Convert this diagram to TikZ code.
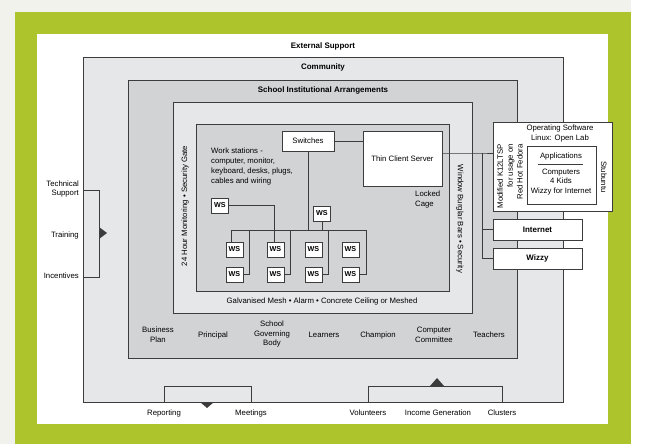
\documentclass[tikz,border=0pt]{standalone}
\usepackage{fontspec}
\setmainfont{Liberation Sans}
\usepackage{xcolor}
\usepackage{tikz}
\definecolor{verde}{HTML}{AEC42C}
\definecolor{grisclaro}{HTML}{E6E7E8}
\definecolor{grisoscuro}{HTML}{D1D3D4}
\definecolor{fondo}{HTML}{F1F2EB}
\definecolor{borde}{HTML}{3C3C3C}

\begin{document}
\begin{tikzpicture}[x = 1bp, y = -1bp,
	caja/.style = {draw = borde, line width = 0.9bp},
	blanca/.style = {caja, fill = white, inner sep = 0pt},
	txt/.style = {font = \fontsize{7.8}{9.9}\selectfont, inner sep = 0pt, align = center},
	negrita/.style = {font = \fontsize{8}{9.9}\selectfont\bfseries, inner sep = 0pt},
	ws/.style = {blanca, minimum width = 17bp, minimum height = 15bp, font = \fontsize{7.2}{7.5}\selectfont\bfseries},
	linea/.style = {draw = borde, line width = 0.8bp}]
						\useasboundingbox (0,0) rectangle (652,444);
						\fill[fondo] (0,0) rectangle (652,444);
						\fill[white] (631,0) rectangle (652,444);
						\fill[verde] (15,12) rectangle (631,444);
						\fill[white] (37,34) rectangle (608,424);
						\filldraw[fill = grisclaro, caja] (83,57) rectangle (563,402);
						\filldraw[fill = grisoscuro, caja] (128,80) rectangle (517,358);
						\filldraw[fill = grisclaro, caja] (173,102) rectangle (472,313);
						\filldraw[fill = grisoscuro, caja] (196,124) rectangle (449,291);
						\node[negrita] (apoyo) at (323,46) {External Support};
						\node[negrita] (comunidad) at (323,67) {Community};
						\node[negrita] (escuela) at (323,90) {School Institutional Arrangements};
						\node[txt] (malla) at (322,301) {Galvanised Mesh • Alarm • Concrete Ceiling or Meshed};
						\node[txt, rotate = 90] (monitoreo) at (185,206) {24 Hour Monitoring • Security Gate};
						\node[txt, rotate = -90] (rejas) at (460,219) {Window Burglar Bars • Security};
						% actores de la escuela
						\node[txt] (plan) at (158,335) {Business\\Plan};
						\node[txt] (director) at (213,335) {Principal};
						\node[txt] (consejo) at (272,334) {School\\Governing\\Body};
						\node[txt] (alumnos) at (324,335) {Learners};
						\node[txt] (campeon) at (378,335) {Champion};
						\node[txt] (comite) at (434,335) {Computer\\Committee};
						\node[txt] (docentes) at (489,335) {Teachers};
						% apoyo externo
						\node[txt, anchor = east, align = right] (tecnico) at (79,189) {Technical\\Support};
						\node[txt, anchor = east] (formacion) at (79,235) {Training};
						\node[txt, anchor = east] (incentivos) at (79,276) {Incentives};
						\draw[linea] (83,190) -| (99,277) -- (83,277);
						\fill[borde] (99,227) -- (107,233) -- (99,239) -- cycle;
						\node[txt] (informes) at (164,413) {Reporting};
						\node[txt] (reuniones) at (251,413) {Meetings};
						\node[txt] (voluntarios) at (368,413) {Volunteers};
						\node[txt] (ingresos) at (438,413) {Income Generation};
						\node[txt] (redes) at (502,413) {Clusters};
						\draw[linea] (informes.north |- 0,402) |- (reuniones.north |- 0,386) -- (reuniones.north |- 0,402);
						\fill[borde] (200,402) -- (214,402) -- (207,408) -- cycle;
						\draw[linea] (voluntarios.north |- 0,402) |- (redes.north |- 0,386) -- (redes.north |- 0,402);
						\fill[borde] (430,386) -- (444,386) -- (437,378) -- cycle;
						% jaula
						\node[blanca, txt, minimum width = 52bp, minimum height = 20bp] (switch) at (308,141) {Switches};
						\node[blanca, txt, minimum width = 79bp, minimum height = 55bp] (servidor) at (402.5,158.5) {Thin Client Server};
						\node[txt, anchor = north west, align = left] (estaciones) at (211,148) {Work stations -\\computer, monitor,\\keyboard, desks, plugs,\\cables and wiring};
						\node[txt, anchor = north west, align = left] (jaula) at (415,191) {Locked\\Cage};
						\node[ws] (wsa) at (220,205.5) {WS};
						\node[ws] (wsb) at (322,213.5) {WS};
						\node[ws] (ws11) at (234.5,249.5) {WS};
						\node[ws] (ws12) at (275.5,249.5) {WS};
						\node[ws] (ws13) at (313.5,249.5) {WS};
						\node[ws] (ws14) at (350.5,249.5) {WS};
						\node[ws] (ws21) at (234.5,274.5) {WS};
						\node[ws] (ws22) at (275.5,274.5) {WS};
						\node[ws] (ws23) at (313.5,274.5) {WS};
						\node[ws] (ws24) at (350.5,274.5) {WS};
						\coordinate (busi) at (231,230);
						\coordinate (busd) at (366,230);
						\draw[linea] (busi) -- (busd);
						\draw[linea] (switch.east) -- (servidor.west |- switch.east);
						\draw[linea] (switch.south) -- (switch.south |- busi);
						\draw[linea] (wsb.south) -- (wsb.south |- busi);
						\draw[linea] (busi) -- (busi |- ws11.north);
						\draw[linea] (249,230) |- (ws21.east);
						\draw[linea] (wsa.east) -| (274,242);
						\draw[linea] (290,230) |- (ws22.east);
						\draw[linea] (328,230) |- (ws23.east);
						\draw[linea] (busd) |- (ws24.east);
						% software y conexiones
						\node[blanca, minimum width = 119bp, minimum height = 89bp] (so) at (552.5,166.5) {};
						\node[caja, minimum width = 69bp, minimum height = 58bp] (aplic) at (561.5,175) {};
						\node[txt] (sotitulo) at (560,133.5) {Operating Software\\Linux: Open Lab};
						\node[txt] (apltitulo) at (561,156) {Applications};
						\draw[linea] (538,164) -- (583,164);
						\node[txt] (programas) at (561,182) {Computers\\4 Kids\\Wizzy for Internet};
						\node[txt, rotate = 90, anchor = east, align = right] (ltsp) at (510,144) {Modified K12LTSP\\for usage on\\Red Hot Fedora};
						\node[txt, rotate = -90] (stubuntu) at (604,177) {Stubuntu};
						\node[blanca, negrita, minimum width = 89bp, minimum height = 21bp] (internet) at (537.5,229.5) {Internet};
						\node[blanca, negrita, minimum width = 89bp, minimum height = 21bp] (wizzy) at (537.5,258.5) {Wizzy};
						\coordinate (nudo) at (482,153);
						\draw[linea] (servidor.east |- nudo) -- (nudo) -- (nudo -| so.west);
						\draw[linea] (nudo) |- (internet.west);
						\draw[linea] (nudo) |- (wizzy.west);
					\end{tikzpicture}
\end{document}
